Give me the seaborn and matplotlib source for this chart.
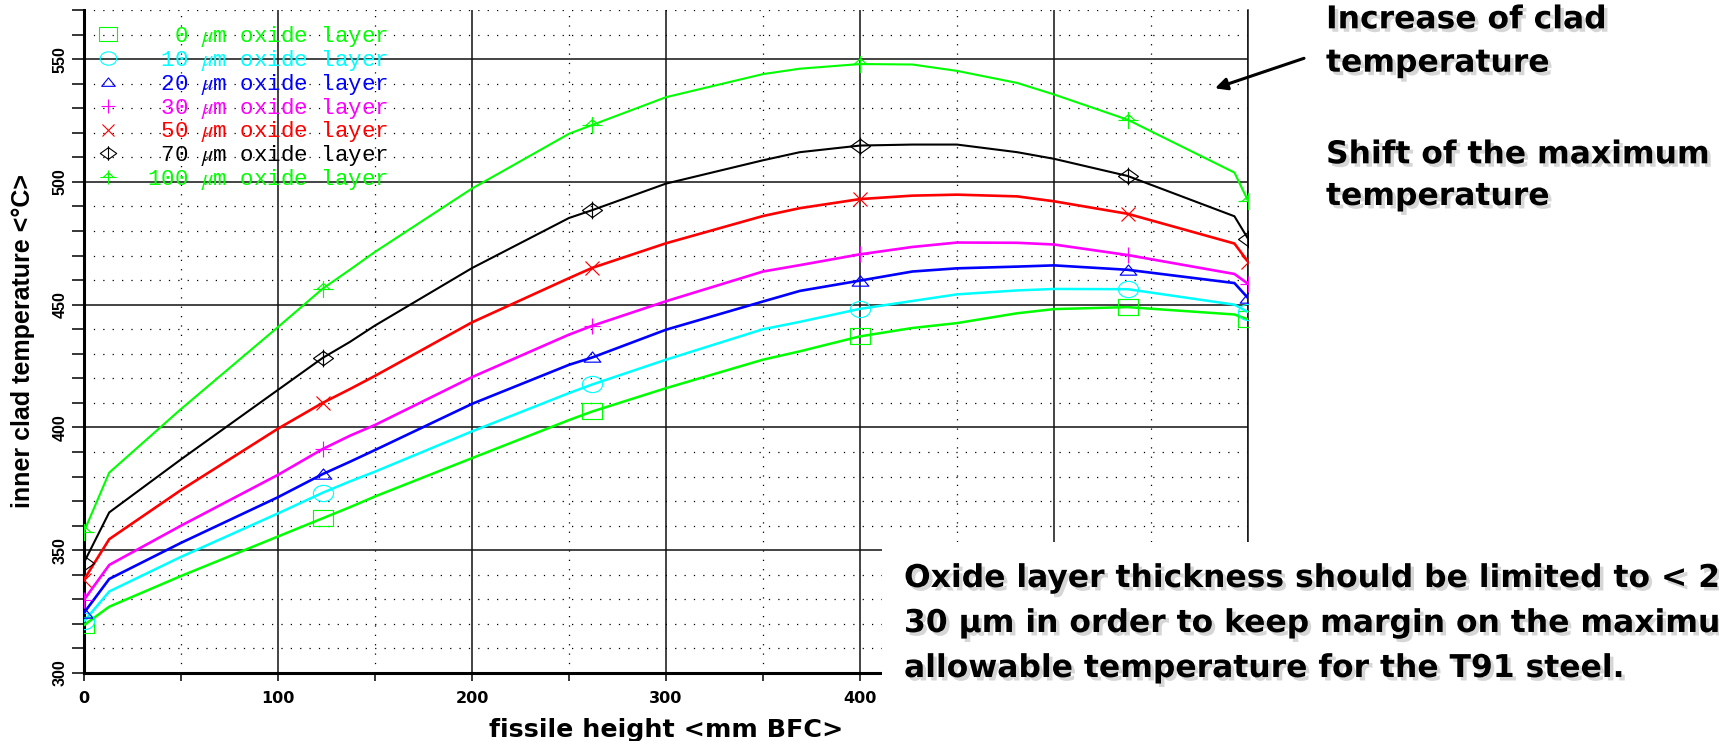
import matplotlib
matplotlib.use("Agg")
import matplotlib.pyplot as plt
import seaborn as sns
from matplotlib.path import Path
from matplotlib.transforms import Affine2D
from matplotlib.lines import Line2D
from matplotlib.patches import Rectangle
from matplotlib.ticker import MultipleLocator
from matplotlib.font_manager import FontProperties
import matplotlib.patheffects as pe

# ---------------- data ----------------
height_mm = [0, 13, 50, 100, 123, 137, 150, 200, 250, 262, 300, 350, 369,
             400, 427, 450, 481, 500, 538, 593, 600]
marker_idx = [0, 4, 9, 13, 18, 20]

temp_0um = [319.5, 327.0, 339.5, 355.6, 363.0, 367.5, 371.9, 387.5, 403.0, 406.5,
            416.0, 427.6, 431.0, 437.1, 440.5, 442.5, 446.5, 448.2, 449.0, 446.0, 444.0]
temp_10um = [321.0, 333.2, 347.3, 365.0, 373.4, 378.0, 382.0, 398.4, 414.0, 417.5,
             427.6, 440.0, 443.0, 448.3, 451.5, 454.2, 455.8, 456.4, 456.3, 450.0, 447.0]
temp_20um = [324.5, 338.3, 353.0, 371.6, 381.0, 386.0, 390.8, 409.6, 425.5, 428.5,
             439.8, 451.3, 455.6, 459.8, 463.5, 464.8, 465.5, 466.0, 464.2, 458.8, 452.7]
temp_30um = [329.8, 344.0, 360.0, 380.7, 391.2, 396.6, 401.0, 420.5, 437.8, 441.4,
             451.4, 463.5, 466.1, 470.5, 473.5, 475.3, 475.2, 474.5, 470.2, 462.5, 458.5]
temp_50um = [338.0, 354.5, 374.5, 399.5, 410.0, 415.6, 421.0, 442.8, 460.8, 465.0,
             475.0, 486.1, 489.3, 493.0, 494.4, 494.8, 494.1, 492.1, 487.0, 474.9, 467.5]
temp_70um = [345.0, 365.4, 387.0, 415.3, 428.3, 434.8, 441.5, 464.9, 485.3, 488.5,
             499.3, 508.8, 512.1, 514.8, 515.2, 515.2, 512.1, 509.4, 502.4, 486.0, 476.9]
temp_100um = [357.6, 381.6, 407.5, 440.9, 456.5, 464.2, 471.5, 497.3, 519.6, 523.2,
              534.5, 543.9, 546.1, 548.0, 547.8, 545.2, 540.3, 535.6, 525.3, 503.8, 492.3]

thickness_labels = ["  0", " 10", " 20", " 30", " 50", " 70", "100"]
series_colors = ["#00ff00", "#00ffff", "#0000ff", "#ff00ff", "#ff0000", "#000000", "#00ff00"]

x_ticks_major = [0, 100, 200, 300, 400, 500, 600]
y_ticks_major = [300, 350, 400, 450, 500, 550]

# ---------------- marker shapes ----------------
M, L, C = Path.MOVETO, Path.LINETO, Path.CLOSEPOLY
m_square = Path([(-0.65, -0.5), (0.65, -0.5), (0.65, 0.5), (-0.65, 0.5), (-0.65, -0.5)],
                [M, L, L, L, C])
m_circle = Path.unit_circle().transformed(Affine2D().scale(0.62, 0.5))
m_tri = Path([(-0.75, -0.42), (0.75, -0.42), (0.0, 0.5), (-0.75, -0.42)], [M, L, L, C])
m_diam = Path([(0, 0.5), (0.7, 0), (0, -0.5), (-0.7, 0), (0, 0.5), (0, 0.62), (0, -0.62)],
              [M, L, L, L, C, M, L])
m_plustri = Path([(-0.7, 0), (0.7, 0), (0, -0.6), (0, 0.6), (-0.45, 0), (0, 0.42), (0.45, 0)],
                 [M, L, M, L, M, L, L])
markers = [m_square, m_circle, m_tri, "+", "x", m_diam, m_plustri]
msizes = [15, 14.5, 12, 11.5, 10.5, 14.4, 14.4]
lwidths = [1.8, 1.8, 1.9, 1.9, 1.9, 1.5, 1.5]

series = [temp_0um, temp_10um, temp_20um, temp_30um, temp_50um, temp_70um, temp_100um]

# ---------------- style ----------------
sns.set_theme(style="ticks")
plt.rcParams["font.family"] = ["Liberation Sans", "DejaVu Sans"]
plt.rcParams["mathtext.fontset"] = "stix"
plt.rcParams["axes.edgecolor"] = "black"

W, H = 1719, 741
fig = plt.figure(figsize=(W / 100, H / 100), dpi=100)
fig.patch.set_facecolor("white")
ax = fig.add_axes([84 / W, 68 / H, 1164 / W, 663 / H])
ax.set_facecolor("white")

for vals, col, mk, ms, lw in zip(series, series_colors, markers, msizes, lwidths):
    sns.lineplot(x=height_mm, y=vals, ax=ax, color=col, linewidth=lw,
                 marker=mk, markevery=marker_idx, markersize=ms,
                 markerfacecolor="none", markeredgecolor=col, markeredgewidth=0.85,
                 legend=False, sort=False, zorder=3)

ax.set_xlim(0, 600)
ax.set_ylim(300, 570)
ax.xaxis.set_major_locator(MultipleLocator(100))
ax.xaxis.set_minor_locator(MultipleLocator(50))
ax.yaxis.set_major_locator(MultipleLocator(50))
ax.yaxis.set_minor_locator(MultipleLocator(10))
ax.set_xticks(x_ticks_major)
ax.set_yticks(y_ticks_major)

ax.set_axisbelow(True)
ax.grid(which="major", color="#111111", linewidth=1.1, linestyle="-")
ax.grid(which="minor", color="#000000", linewidth=0.9, linestyle=(0, (1, 6.5)))

ax.spines["top"].set_visible(False)
ax.spines["right"].set_linewidth(1.1)
ax.spines["right"].set_color("#111111")
for s in ("left", "bottom"):
    ax.spines[s].set_linewidth(2.2)
    ax.spines[s].set_color("black")

ax.tick_params(axis="x", which="both", bottom=True, direction="out", length=5.8,
               width=1.1, pad=7, labelsize=11.5, colors="black")
ax.tick_params(axis="y", which="both", left=True, direction="out", length=8.6,
               width=1.1, pad=3.4, labelsize=11.5, labelrotation=90, colors="black")
for lab in ax.get_xticklabels():
    lab.set_fontfamily("DejaVu Sans")
    lab.set_fontweight("bold")
for lab in ax.get_yticklabels():
    lab.set_fontfamily("Liberation Sans")
    lab.set_fontweight("bold")
    lab.set_va("center")

ax.set_xlabel("fissile height <mm BFC>", fontsize=18.3, fontweight="bold",
              family="DejaVu Sans", color="black")
ax.xaxis.label.set_va("baseline")
ax.xaxis.set_label_coords(0.5, -0.0971)
ax.set_ylabel("inner clad temperature <°C>", fontsize=18, fontweight="bold",
              family="Liberation Sans", color="black")
ax.yaxis.label.set_va("baseline")
ax.yaxis.set_label_coords(-0.0464, 0.5)

# legend
handles = [Line2D([], [], linestyle="none", marker=mk, markersize=ms * 0.82,
                  markerfacecolor="none", markeredgecolor=col, markeredgewidth=0.8)
           for mk, ms, col in zip(markers, msizes, series_colors)]
labels = [f"{t} $\\mu$m oxide layer" for t in thickness_labels]
ax.legend(handles, labels, loc="upper left", bbox_to_anchor=(0.011, 0.979),
          frameon=False, borderpad=0, borderaxespad=0, handlelength=1.0,
          handletextpad=1.22, labelspacing=-0.05,
          prop=FontProperties(family="Liberation Mono", size=16.2),
          labelcolor=series_colors)

# arrow
ax.annotate("", xy=(1215 / W, 1 - 88.3 / H), xycoords="figure fraction",
            xytext=(1304 / W, 1 - 58.3 / H), textcoords="figure fraction",
            arrowprops=dict(arrowstyle="-|>", color="black", lw=2.2, mutation_scale=18,
                            shrinkA=0, shrinkB=0))

# white box of the slide text area
fig.add_artist(Rectangle((882 / W, 0), (W - 882) / W, (H - 542) / H,
                         transform=fig.transFigure, facecolor="white",
                         edgecolor="none", zorder=5))

shadow = [pe.withSimplePatchShadow(offset=(2.5, -2.5), shadow_rgbFace=(0.6, 0.6, 0.6),
                                   alpha=0.4)]
txt_kw = dict(fontsize=22.6, fontweight="bold", family="DejaVu Sans", color="black",
              va="baseline", ha="left", path_effects=shadow, zorder=6)

fig.text(1326 / W, 1 - 28.3 / H, "Increase of clad", **txt_kw)
fig.text(1326 / W, 1 - 71.7 / H, "temperature", **txt_kw)
fig.text(1326 / W, 1 - 163.3 / H, "Shift of the maximum", **txt_kw)
fig.text(1326 / W, 1 - 205.0 / H, "temperature", **txt_kw)

fig.text(904 / W, 1 - 587.0 / H, "Oxide layer thickness should be limited to < 20 -", **txt_kw)
fig.text(904 / W, 1 - 632.0 / H, "30 \u00b5m in order to keep margin on the maximum", **txt_kw)
fig.text(904 / W, 1 - 677.0 / H, "allowable temperature for the T91 steel.", **txt_kw)

fig.savefig("out.png", dpi=100, facecolor="white")
